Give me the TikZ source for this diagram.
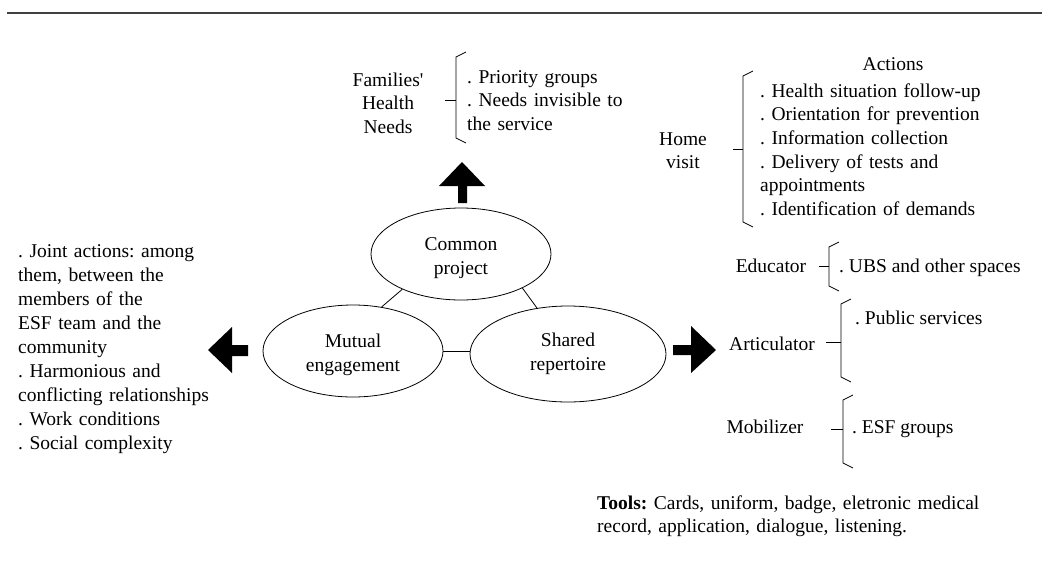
\documentclass[tikz,border=0pt]{standalone}
\usepackage{fontspec}
\setmainfont{Liberation Serif}
\newfontfamily\noligs{Liberation Serif}
\usetikzlibrary{shapes.geometric}
\newcommand\mybrack[5]{% x, ytop, ybot, ytick, ticklen
  \draw[brk] ({#1+10},{#2-5}) -- (#1,#2) -- (#1,#3) -- ({#1+10},{#3+5});
  \draw[brk] (#1,#4) -- ({#1-#5},#4);}
\tikzset{
  brk/.style={line width=0.7pt},
  ell/.style={draw, ellipse, line width=0.8pt, inner sep=0pt, align=center},
  lnk/.style={line width=0.8pt},
  blk/.style={fill=black, draw=none},
  lst/.style={inner sep=0pt, anchor=base west, align=left},
  ctr/.style={inner sep=0pt, anchor=base, align=center},
}
\begin{document}
\frenchspacing
\begin{tikzpicture}[x=1pt,y=-1pt,font=\fontsize{19.5}{23.7}\selectfont\frenchspacing]
\useasboundingbox (0,0) rectangle (1042,571);
% top rule
\draw[line width=1.6pt, black!75] (7,13) -- (1042,13);

% ellipses
\node[ell, minimum width=180, minimum height=92] (cp) at (461,254) {\rule{0pt}{21pt}Common\\project};
\node[ell, minimum width=180, minimum height=92] (me) at (353,351) {\rule{0pt}{21pt}Mutual\\engagement};
\node[ell, minimum width=196, minimum height=96] (sr) at (568,354) {Shared\\repertoire};
\draw[lnk] (cp.211) -- (me.57);
\draw[lnk] (cp.-29) -- (sr.124);
\draw[lnk] (me.east) -- (me.east -| sr.west);

% block arrows
\fill[blk] (458,203) -- (458,186) -- (439,186) -- (462,162) -- (485,186) -- (467,186) -- (467,203) -- cycle;
\fill[blk] (248,345) -- (232,345) -- (232,327) -- (208,350) -- (232,373) -- (232,356) -- (248,356) -- cycle;
\fill[blk] (673,345) -- (691,345) -- (691,326) -- (716,350) -- (691,373) -- (691,355) -- (673,355) -- cycle;

% top: families' health needs
\node[ctr, text width=110] (fhn) at (388,86) {Families{\noligs '}\\[-0.2pt]Health\\[-0.2pt]Needs};
\mybrack{456}{57}{138}{100}{11}
\node[lst, text width=220] (fhl) at (467,83) {. Priority groups\\. Needs invisible to\\the service};

% home visit
\node[inner sep=0pt, anchor=base] (act) at (893,70) {Actions};
\node[ctr, text width=80] (hv) at (683,145) {Home\\visit};
\mybrack{743}{76}{222}{149}{10}
\node[lst, text width=290] (hvl) at (760,97) {. Health situation follow-up\\. Orientation for prevention\\. Information collection\\. Delivery of tests and\\appointments\\. Identification of demands};

% educator
\node[inner sep=0pt, anchor=base] (edu) at (771,272) {Educator};
\mybrack{829}{247}{286}{266}{10}
\node[inner sep=0pt, anchor=base west] (edl) at (839,272) {. UBS and other spaces};

% articulator
\node[inner sep=0pt, anchor=base] (art) at (772,350) {Articulator};
\mybrack{841}{304}{377}{342}{15}
\node[inner sep=0pt, anchor=base west] (arl) at (855,324) {. Public services};

% mobilizer
\node[inner sep=0pt, anchor=base] (mob) at (765,433) {Mobilizer};
\mybrack{843}{400}{463}{429}{12}
\node[inner sep=0pt, anchor=base west] (mol) at (852,433) {. ESF groups};

% tools
\node[lst, text width=440] (tools) at (597,509) {\textbf{Tools:} Cards, uniform, badge, eletronic medical\\record, application, dialogue, listening.};

% left list
\node[lst, text width=240, font=\fontsize{19.5}{24}\selectfont\frenchspacing] (ml) at (18,257) {. Joint actions: among\\them, between the\\members of the\\ESF team and the\\community\\. Harmonious and\\conflicting relationships\\. Work conditions\\. Social complexity};
\end{tikzpicture}
\end{document}
